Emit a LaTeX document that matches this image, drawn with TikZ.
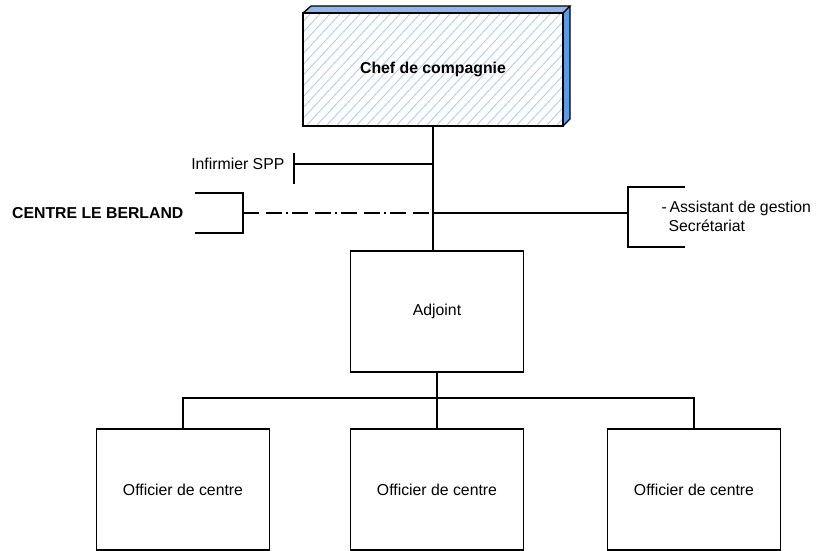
\documentclass[tikz,border=0pt]{standalone}
\usepackage{fontspec}
\setmainfont{Liberation Sans}
\usepackage{tikz}
\usetikzlibrary{positioning,calc}
\definecolor{hatchblue}{HTML}{A9CBF3}
\definecolor{sideblue}{HTML}{5E9BE6}
\definecolor{topblue}{HTML}{8DB9EE}
\tikzstyle{orga}=[
  x=1pt,y=-1pt,font=\fontsize{15.8}{19}\selectfont,line width=1.3pt
]
\tikzstyle{unit}=[
  draw,rectangle,minimum width=173pt,minimum height=121pt,inner sep=0pt
]
\tikzstyle{label}=[
  inner sep=0pt
]

\begin{document}
\begin{tikzpicture}[orga]
    \useasboundingbox (0,0) rectangle (819,551);
    % chef box, hatched front face
    \scope
    \clip (303,13) rectangle (563,126);
    \fill[white] (303,13) rectangle (563,126);
    \foreach \k in {0,10,...,400}
      \draw[hatchblue,line width=0.8pt] (303+\k-130,140) -- (303+\k,0);
    \endscope
    \fill[topblue] (303,13) -- (311,6) -- (570,6) -- (563,13) -- cycle;
    \fill[sideblue] (563,13) -- (570,6) -- (570,119) -- (563,126) -- cycle;
    \draw (303,13) -- (311,6) -- (570,6) -- (563,13)
          (570,6) -- (570,119) -- (563,126);
    \node[unit,minimum width=260pt,minimum height=113pt] (chef) at (433,69.5)
          {\bfseries Chef de compagnie};
    % staff
    \node[unit] (adjoint) at (437,311.5) {Adjoint};
    \coordinate (spp) at (294,164);
    \node[label,anchor=east] (inf) at (285,164) {Infirmier SPP};
    \draw (294,153) -- (294,184);
    \draw (chef.south) -- (chef.south |- adjoint.north);
    \draw (spp) -- (spp -| chef.south);
    % centre le berland
    \coordinate (berland) at (243,213);
    \node[label,anchor=east] (cent) at (184,213) {\bfseries CENTRE LE BERLAND};
    \draw (195,193) -- (243,193) -- (243,233) -- (195,233);
    \draw[dash pattern=on 16pt off 7pt on 16pt off 4pt on 2pt off 4pt]
          (berland) -- (berland -| chef.south);
    % secretariat
    \coordinate (secr) at (628,213);
    \draw (685,187) -- (628,187) -- (628,247) -- (685,247);
    \draw (berland -| chef.south) -- (secr);
    \node[label,anchor=west,align=left] (gest) at (661,216)
          {-\,Assistant de gestion\\[0pt]\hspace*{7pt}Secrétariat};
    % centres
    \node[unit] (off1) at (183,489.5) {Officier de centre};
    \node[unit] (off2) at (437,489.5) {Officier de centre};
    \node[unit] (off3) at (694,489.5) {Officier de centre};
    \coordinate (bus) at (437,398);
    \draw (adjoint.south) -- (bus);
    \draw (off1.north) -- (off1.north |- bus) -- (off3.north |- bus) -- (off3.north);
    \draw (bus) -- (off2.north);
\end{tikzpicture}
\end{document}
